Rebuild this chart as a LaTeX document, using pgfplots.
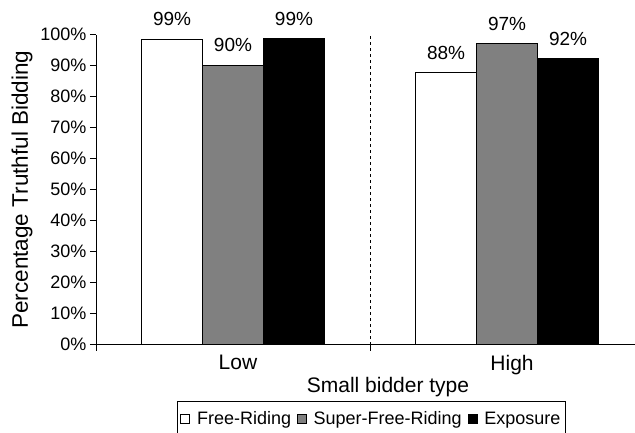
\documentclass[border=0pt]{standalone}
\usepackage{pgfplots}
\pgfplotsset{compat=1.18}
\usepackage{fontspec}
\setmainfont{Liberation Sans}
\definecolor{midgray}{RGB}{128,128,128}

\begin{document}
\begin{tikzpicture}[x=1pt,y=1pt]
\begin{axis}[
    at={(96pt,87.5pt)}, anchor=south west,
    scale only axis, width=539pt, height=309.8pt,
    xmin=-0.5, xmax=1.467, ymin=0, ymax=100,
    axis x line=bottom, axis y line=left,
    axis line style={-, line width=0.8pt},
    ybar, bar width=0.2226,
    xtick={-0.5,0.5}, xticklabels={},
    extra x ticks={0,1}, extra x tick labels={Low,High},
    extra x tick style={major tick length=0pt},
    ytick={0,10,...,100}, yticklabel={\pgfmathprintnumber{\tick}\%},
    tick align=outside, major tick length=6pt,
    tick style={black, line width=0.8pt},
    /pgf/number format/assume math mode=true,
    yticklabel style={font=\fontsize{18}{20}\selectfont},
    xticklabel style={font=\fontsize{21}{24}\selectfont, xshift=5pt, yshift=-7pt},
    clip=false,
    nodes near coords={\pgfmathprintnumber[fixed,precision=0]{\pgfplotspointmeta}\%},
    every node near coord/.append style={font=\fontsize{19}{22}\selectfont,
        inner sep=0pt, anchor=south, yshift=12.5pt},
    legend columns=3,
    legend image code/.code={\draw[#1, draw=black, line width=0.6pt] (0pt,-4.5pt) rectangle (9pt,4.5pt);},
    legend style={at={(0.511,-0.183)}, anchor=north, draw=black, line width=0.8pt,
        font=\fontsize{18}{20}\selectfont, inner xsep=3pt, inner ysep=8pt,
        nodes={inner xsep=2pt},
        /tikz/every even column/.append style={column sep=4pt},
        /tikz/every odd column/.append style={column sep=5pt}},
]
\addplot[bar shift=-0.2226, fill=white, draw=black, line width=0.8pt]
    coordinates {(0,98.6) (1,87.9)};
\addlegendentry{Free-Riding}
\addplot[bar shift=0, fill=midgray, draw=black, line width=0.8pt]
    coordinates {(0,90.2) (1,97.1)};
\addlegendentry{Super-Free-Riding}
\addplot[bar shift=0.2226, fill=black, draw=black, line width=0.8pt]
    coordinates {(0,98.8) (1,92.4)};
\addlegendentry{Exposure}
\draw[line width=0.8pt, dash pattern=on 3pt off 3pt] (axis cs:0.5,0) -- (axis cs:0.5,100);
\end{axis}
\node[rotate=90, font=\fontsize{22.5}{26}\selectfont] at (22,242.4) {Percentage Truthful Bidding};
\node[anchor=base, font=\fontsize{21}{24}\selectfont] at (388,40) {Small bidder type};
\pgfresetboundingbox
\useasboundingbox (0,0) rectangle (635,432);
\end{tikzpicture}
\end{document}
